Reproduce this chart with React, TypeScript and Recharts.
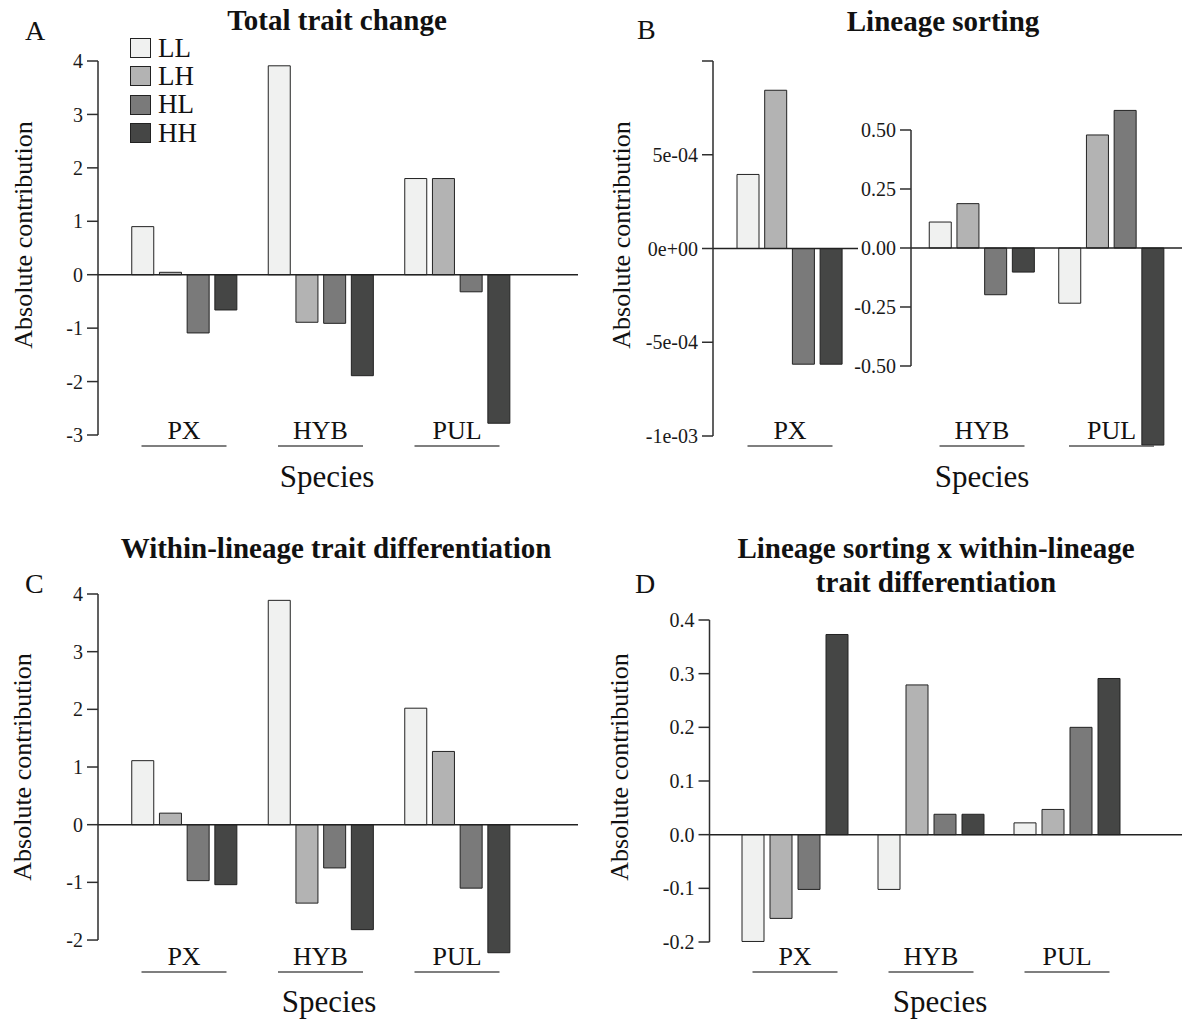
import { Bar, BarChart, Legend, ReferenceLine, XAxis, YAxis } from "recharts";

const FONT = '"Liberation Serif", "Times New Roman", serif';
const INK = "#2e2e2e";

const species = ["PX", "HYB", "PUL"];
const genotypes = ["LL", "LH", "HL", "HH"];
const genotypeFills = ["#f0f1f0", "#b3b3b3", "#7a7a7a", "#454645"];

// A - total trait change (PX, HYB, PUL)
const totalLL = [0.9, 3.91, 1.8];
const totalLH = [0.045, -0.89, 1.8];
const totalHL = [-1.09, -0.91, -0.32];
const totalHH = [-0.66, -1.89, -2.78];
const totalTicks = [-3, -2, -1, 0, 1, 2, 3, 4];

// B - lineage sorting, PX drawn on its own axis
const sortingPX = [3.95e-4, 8.44e-4, -6.17e-4, -6.17e-4];
const sortingPXTicks = [-1e-3, -5e-4, 0, 5e-4, 1e-3];
const sortingOther = ["HYB", "PUL"];
const sortingLL = [0.11, -0.234];
const sortingLH = [0.188, 0.479];
const sortingHL = [-0.198, 0.583];
const sortingHH = [-0.102, -0.835];
const sortingTicks = [-0.5, -0.25, 0, 0.25, 0.5];

// C - within-lineage trait differentiation
const withinLL = [1.11, 3.89, 2.02];
const withinLH = [0.2, -1.36, 1.27];
const withinHL = [-0.97, -0.75, -1.1];
const withinHH = [-1.04, -1.82, -2.22];
const withinTicks = [-2, -1, 0, 1, 2, 3, 4];

// D - lineage sorting x within-lineage trait differentiation
const interLL = [-0.199, -0.102, 0.022];
const interLH = [-0.156, 0.279, 0.047];
const interHL = [-0.102, 0.038, 0.2];
const interHH = [0.373, 0.038, 0.291];
const interTicks = [-0.2, -0.1, 0, 0.1, 0.2, 0.3, 0.4];

type Row = Record<string, string | number>;

function toRows(cats: string[], ll: number[], lh: number[], hl: number[], hh: number[]): Row[] {
  return cats.map((s, i) => ({ species: s, LL: ll[i], LH: lh[i], HL: hl[i], HH: hh[i] }));
}

const totalRows = toRows(species, totalLL, totalLH, totalHL, totalHH);
const sortingPXRows: Row[] = [
  { species: "PX", LL: sortingPX[0], LH: sortingPX[1], HL: sortingPX[2], HH: sortingPX[3] },
];
const sortingRows = toRows(sortingOther, sortingLL, sortingLH, sortingHL, sortingHH);
const withinRows = toRows(species, withinLL, withinLH, withinHL, withinHH);
const interRows = toRows(species, interLL, interLH, interHL, interHH);

// R style scientific labels: 5e-04, 0e+00
function sci(v: number) {
  const [m, e] = v.toExponential().split("e");
  const n = Number(e);
  return `${m}e${n < 0 ? "-" : "+"}${String(Math.abs(n)).padStart(2, "0")}`;
}

// axis line only runs over the tick range, like base R axis()
function axisDash(domain: [number, number], ticks: number[], plotH: number) {
  const span = domain[1] - domain[0];
  const hi = Math.max(...ticks);
  const lo = Math.min(...ticks);
  const off = (plotH * (domain[1] - hi)) / span;
  const len = (plotH * (hi - lo)) / span;
  return `0 ${off} ${len} ${plotH * 2}`;
}

function SpeciesTick(props: any) {
  const { x, y, payload, dy } = props;
  const base = y + dy;
  return (
    <g>
      <text x={x} y={base} textAnchor="middle" fontSize={26} fontFamily={FONT} fill="#111">
        {payload.value}
      </text>
      <line x1={x - 42.5} x2={x + 42.5} y1={base + 7} y2={base + 7} stroke="#555" strokeWidth={1.6} />
    </g>
  );
}

function GenotypeLegend(props: any) {
  const items = [...(props.payload || [])].sort(
    (a: any, b: any) => genotypes.indexOf(a.value) - genotypes.indexOf(b.value)
  );
  return (
    <div style={{ fontFamily: FONT, fontSize: 27, color: "#111" }}>
      {items.map((e: any) => (
        <div key={e.value} style={{ display: "flex", alignItems: "center", height: 28.3 }}>
          <span
            style={{
              display: "inline-block",
              width: 19,
              height: 18,
              background: e.color,
              border: "1px solid #222",
              marginRight: 7,
            }}
          />
          <span>{e.value}</span>
        </div>
      ))}
    </div>
  );
}

type PanelProps = {
  left: number;
  top: number;
  width: number;
  height: number;
  marginTop: number;
  marginRight: number;
  axisWidth: number;
  xAxisHeight: number;
  data: Row[];
  domain: [number, number];
  ticks: number[];
  format?: (v: number) => string;
  pad: { left: number; right: number };
  barGap: number;
  labelDy: number;
  legend?: boolean;
};

function Panel(p: PanelProps) {
  const plotH = p.height - p.marginTop - p.xAxisHeight;
  return (
    <div style={{ position: "absolute", left: p.left, top: p.top, width: p.width, height: p.height }}>
      <BarChart
        width={p.width}
        height={p.height}
        data={p.data}
        margin={{ top: p.marginTop, right: p.marginRight, bottom: 0, left: 0 }}
        barSize={22}
        barGap={p.barGap}
      >
        <XAxis
          dataKey="species"
          type="category"
          axisLine={false}
          tickLine={false}
          tickSize={0}
          tickMargin={0}
          height={p.xAxisHeight}
          padding={p.pad}
          interval={0}
          tick={(t: any) => <SpeciesTick {...t} dy={p.labelDy} />}
        />
        <YAxis
          type="number"
          domain={p.domain}
          ticks={p.ticks}
          width={p.axisWidth}
          interval={0}
          tickFormatter={p.format}
          tick={{ fontSize: 20, fill: "#1a1a1a", fontFamily: FONT }}
          tickSize={11}
          tickMargin={4}
          axisLine={{ stroke: INK, strokeWidth: 1.5, strokeDasharray: axisDash(p.domain, p.ticks, plotH) }}
          tickLine={{ stroke: INK, strokeWidth: 1.5 }}
        />
        <ReferenceLine y={0} stroke="#222" strokeWidth={1.5} />
        {genotypes.map((g, i) => (
          <Bar
            key={g}
            dataKey={g}
            name={g}
            fill={genotypeFills[i]}
            stroke="#222"
            strokeWidth={1}
            isAnimationActive={false}
          />
        ))}
        {p.legend && (
          <Legend
            layout="horizontal"
            verticalAlign="middle"
            align="center"
            wrapperStyle={{ left: 130, top: 34, width: 90 }}
            content={GenotypeLegend}
          />
        )}
      </BarChart>
    </div>
  );
}

const textStyle = { fontFamily: FONT, fill: "#111" };

export default function App() {
  return (
    <div
      style={{
        position: "absolute",
        left: 0,
        top: 0,
        width: 1182,
        height: 1021,
        background: "#fff",
        overflow: "hidden",
      }}
    >
      <Panel
        left={0}
        top={0}
        width={600}
        height={500}
        marginTop={61}
        marginRight={22}
        axisWidth={98}
        xAxisHeight={65}
        data={totalRows}
        domain={[-3, 4]}
        ticks={totalTicks}
        pad={{ left: 17.75, right: 52.75 }}
        barGap={5.7}
        labelDy={4}
        legend
      />
      <Panel
        left={600}
        top={0}
        width={258}
        height={500}
        marginTop={61}
        marginRight={0}
        axisWidth={113}
        xAxisHeight={64}
        data={sortingPXRows}
        domain={[-1e-3, 1e-3]}
        ticks={sortingPXTicks}
        format={(v) => (v === 1e-3 ? "" : sci(v))}
        pad={{ left: 9, right: 0 }}
        barGap={5.7}
        labelDy={3}
      />
      <Panel
        left={800}
        top={0}
        width={382}
        height={500.4}
        marginTop={35.6}
        marginRight={0}
        axisWidth={111}
        xAxisHeight={40}
        data={sortingRows}
        domain={[-0.9, 0.9]}
        ticks={sortingTicks}
        format={(v) => v.toFixed(2)}
        pad={{ left: 6.25, right: 5.75 }}
        barGap={5.7}
        labelDy={-21.4}
      />
      <Panel
        left={0}
        top={520}
        width={600}
        height={480}
        marginTop={74}
        marginRight={22}
        axisWidth={98}
        xAxisHeight={36.9}
        data={withinRows}
        domain={[-2.4, 4]}
        ticks={withinTicks}
        pad={{ left: 17.75, right: 52.75 }}
        barGap={5.7}
        labelDy={1.9}
      />
      <Panel
        left={600}
        top={520}
        width={582}
        height={480}
        marginTop={100}
        marginRight={0}
        axisWidth={109.5}
        xAxisHeight={58}
        data={interRows}
        domain={[-0.2, 0.4]}
        ticks={interTicks}
        format={(v) => v.toFixed(1)}
        pad={{ left: 17.5, right: 47 }}
        barGap={6}
        labelDy={23}
      />
      <svg
        width={1182}
        height={1021}
        style={{ position: "absolute", left: 0, top: 0, pointerEvents: "none" }}
      >
        <g style={textStyle}>
          <text x={25} y={40} fontSize={28}>A</text>
          <text x={337} y={30} fontSize={29} fontWeight="bold" textAnchor="middle">Total trait change</text>
          <text transform="translate(32,235) rotate(-90)" fontSize={26} textAnchor="middle">Absolute contribution</text>
          <text x={327} y={487} fontSize={31} textAnchor="middle">Species</text>

          <text x={637} y={39} fontSize={28}>B</text>
          <text x={943} y={31} fontSize={29} fontWeight="bold" textAnchor="middle">Lineage sorting</text>
          <text transform="translate(630,235) rotate(-90)" fontSize={26} textAnchor="middle">Absolute contribution</text>
          <text x={982} y={487} fontSize={31} textAnchor="middle">Species</text>

          <text x={25} y={593} fontSize={28}>C</text>
          <text x={336} y={558} fontSize={29} fontWeight="bold" textAnchor="middle">Within-lineage trait differentiation</text>
          <text transform="translate(31,767) rotate(-90)" fontSize={26} textAnchor="middle">Absolute contribution</text>
          <text x={329} y={1012} fontSize={31} textAnchor="middle">Species</text>

          <text x={635} y={593} fontSize={28}>D</text>
          <text x={936} y={558} fontSize={29} fontWeight="bold" textAnchor="middle">Lineage sorting x within-lineage</text>
          <text x={936} y={592} fontSize={29} fontWeight="bold" textAnchor="middle">trait differentiation</text>
          <text transform="translate(628,767) rotate(-90)" fontSize={26} textAnchor="middle">Absolute contribution</text>
          <text x={940} y={1012} fontSize={31} textAnchor="middle">Species</text>
        </g>
      </svg>
    </div>
  );
}
